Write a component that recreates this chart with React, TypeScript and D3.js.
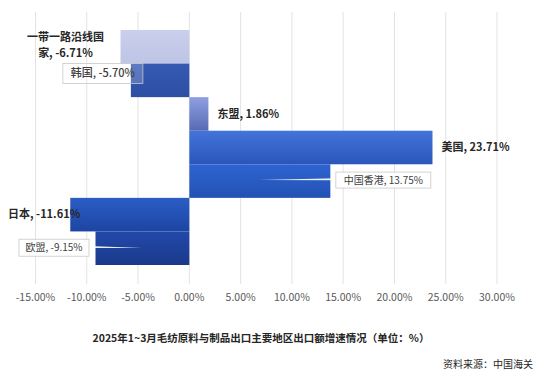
import * as d3 from "d3";

const categories = ["一带一路沿线国家", "韩国", "东盟", "美国", "中国香港", "日本", "欧盟"];
const growth = [-6.71, -5.7, 1.86, 23.71, 13.75, -11.61, -9.15];
const xTicks = [-15, -10, -5, 0, 5, 10, 15, 20, 25, 30];
const barColors = [
  ["#c9cfec", "#bec5e5"],
  ["#355ab1", "#2c4fa4"],
  ["#8fa1e2", "#5769b3"],
  ["#4374d9", "#2a56bb"],
  ["#2e64d0", "#2352b4"],
  ["#2b5dc5", "#1d45a2"],
  ["#2249aa", "#1a398b"],
];
const title = "2025年1~3月毛纺原料与制品出口主要地区出口额增速情况（单位：%）";
const source = "资料来源：中国海关";

const W = 554;
const H = 374;
const FONT = "'Noto Sans CJK SC', 'Noto Sans', sans-serif";

export default function App() {
  const x = d3.scaleLinear().domain([-15, 30]).range([35.5, 497]);
  const y = d3.scaleBand<string>().domain(categories).range([30, 265]).padding(0);
  const bw = y.bandwidth();
  const fmt = (v: number) => `${v.toFixed(2)}%`;

  const end = (i: number) => x(growth[i]);
  const mid = (i: number) => (y(categories[i]) as number) + bw / 2;
  const top = (i: number) => y(categories[i]) as number;

  const plainLabel = (i: number, px: number, anchor: string) => (
    <text
      key={"l" + i}
      x={px}
      y={mid(i)}
      dy="0.35em"
      textAnchor={anchor}
      fontSize={11}
      fontWeight="bold"
      fill="#262626"
    >
      {`${categories[i]}, ${fmt(growth[i])}`}
    </text>
  );

  const boxLabel = (
    i: number,
    bx: number,
    by: number,
    w: number,
    h: number,
    fillOpacity: number,
    size: number,
    weight: string,
    leader?: [number, number]
  ) => {
    const edge = leader && leader[0] > bx ? bx + w : bx;
    return (
      <g key={"b" + i}>
        {leader && (
          <polygon
            points={`${leader[0]},${leader[1]} ${edge},${by + h / 2 - 1.8} ${edge},${by + h / 2 + 0.2}`}
            fill="#ffffff"
            opacity={0.9}
          />
        )}
        <rect x={bx} y={by} width={w} height={h} fill="#ffffff" fillOpacity={fillOpacity} stroke="#c8c8c8" strokeWidth={0.8} />
        <text x={bx + w / 2} y={by + h / 2} dy="0.35em" textAnchor="middle" fontSize={size} fontWeight={weight} fill="#404040">
          {`${categories[i]}, ${fmt(growth[i])}`}
        </text>
      </g>
    );
  };

  return (
    <svg
      width={W}
      height={H}
      style={{ position: "absolute", left: 0, top: 0, fontFamily: FONT, background: "#fff" }}
    >
      <defs>
        {barColors.map((c, i) => (
          <linearGradient key={i} id={"g" + i} x1="0" y1="0" x2="0" y2="1">
            <stop offset="0%" stopColor={c[0]} />
            <stop offset="100%" stopColor={c[1]} />
          </linearGradient>
        ))}
      </defs>

      {/* grid */}
      {xTicks.map((t) => (
        <line key={t} x1={x(t)} x2={x(t)} y1={12} y2={284} stroke="#e3e3e3" strokeWidth={1} />
      ))}

      {/* bars */}
      {categories.map((c, i) => (
        <rect
          key={c}
          x={Math.min(x(0), x(growth[i]))}
          y={y(c)}
          width={Math.abs(x(growth[i]) - x(0))}
          height={bw}
          fill={`url(#g${i})`}
        />
      ))}

      {/* axis labels */}
      {xTicks.map((t) => (
        <text key={"t" + t} x={x(t)} y={297} dy="0.35em" textAnchor="middle" fontSize={10.5} fill="#595959">
          {fmt(t)}
        </text>
      ))}

      {/* data labels */}
      <text x={end(0) - 55} y={top(0) + 7} dy="0.35em" textAnchor="middle" fontSize={11} fontWeight="bold" fill="#262626">
        <tspan x={end(0) - 55}>{categories[0].slice(0, 7)}</tspan>
        <tspan x={end(0) - 55} dy={16}>{`${categories[0].slice(7)}, ${fmt(growth[0])}`}</tspan>
      </text>
      {boxLabel(1, end(1) - 68, top(1), 80, 20, 0.2, 11, "500")}
      {plainLabel(2, end(2) + 9, "start")}
      {plainLabel(3, end(3) + 9, "start")}
      {boxLabel(4, end(4) + 5.5, mid(4) - 9, 95, 16, 1, 10, "normal", [259, 180])}
      {plainLabel(5, end(5) + 10, "end")}
      {boxLabel(6, end(6) - 76.5, mid(6) - 9, 70, 17, 1, 10, "normal", [142, 248])}

      {/* title & source */}
      <text x={261} y={338} dy="0.35em" textAnchor="middle" fontSize={10.5} fontWeight="bold" fill="#262626">
        {title}
      </text>
      <text x={533} y={364} dy="0.35em" textAnchor="end" fontSize={10} fill="#262626">
        {source}
      </text>
    </svg>
  );
}
